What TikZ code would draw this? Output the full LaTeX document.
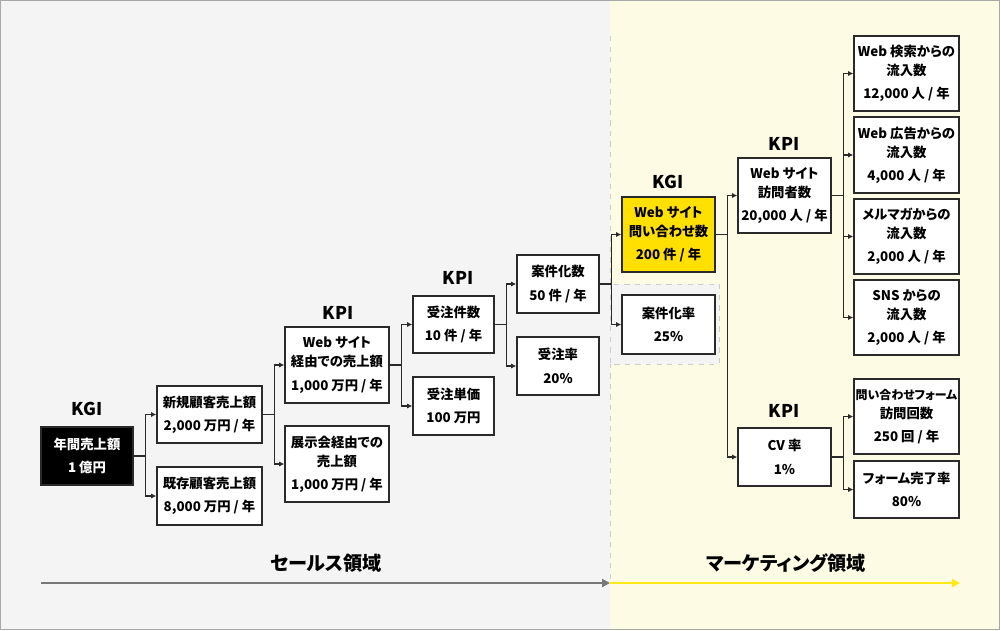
\documentclass[tikz,border=0pt]{standalone}
\usepackage{fontspec}
\setmainfont{Noto Sans CJK JP}[RawFeature=+palt]
\usetikzlibrary{positioning, arrows.meta}

\definecolor{salesbg}{HTML}{F4F4F4}
\definecolor{mktbg}{HTML}{FEFBE4}
\definecolor{kgiyellow}{HTML}{FFE000}
\definecolor{linegray}{HTML}{2A2A2A}
\definecolor{framegray}{HTML}{A8A8A8}
\definecolor{dashgray}{HTML}{CCCCCC}
\definecolor{flowgray}{HTML}{777777}
\definecolor{flowyellow}{HTML}{FFE81A}

\begin{document}
\begin{tikzpicture}[
    x=0.02cm, y=-0.02cm,
    box/.style={draw=linegray, line width=0.75pt, fill=white, align=center, inner sep=0pt, font=\fontsize{7.6}{10.8}\selectfont\bfseries},
    boxsize/.style 2 args={minimum width=#1, minimum height=#2},
    heading/.style={font=\fontsize{10}{12}\selectfont\bfseries},
    area/.style={font=\fontsize{10.9}{12}\selectfont\bfseries},
    link/.style={-{Latex[length=3pt,width=3pt]}, draw=linegray, line width=0.6pt},
    flow/.style={-{Triangle[length=4.5pt,width=4.5pt]}, line width=1.1pt}
]

% Background areas
\useasboundingbox (0,0) rectangle (1000,630);
\fill[salesbg] (0,0) rectangle (610,630);
\fill[mktbg] (610,0) rectangle (1000,630);
\draw[dashgray, dashed] (610,36) -- (610,583);
\draw[dashgray, dashed, fill=salesbg] (610,284) rectangle (719,364);
\draw[framegray, line width=1.1pt] (0.5,0.5) rectangle (999.5,629.5);

% Sales side
\node[box, boxsize={1.84cm}{1.16cm}, fill=black, text=white] (annual) at (87,456) {年間売上額\\[2.5pt]1 億円};
\node[box, boxsize={2.1cm}{1.14cm}] (newcust) at (209.5,414.5) {新規顧客売上額\\[2.5pt]2,000 万円 / 年};
\node[box, boxsize={2.1cm}{1.16cm}] (repeat) at (209.5,496) {既存顧客売上額\\[2.5pt]8,000 万円 / 年};
\node[box, boxsize={2.08cm}{1.52cm}] (webrev) at (337,365) {Web サイト\\経由での売上額\\[2.5pt]1,000 万円 / 年};
\node[box, boxsize={2.08cm}{1.52cm}] (expo) at (337,464) {展示会経由での\\売上額\\[2.5pt]1,000 万円 / 年};
\node[box, boxsize={1.62cm}{1.14cm}] (orders) at (453.5,324.5) {受注件数\\[2.5pt]10 件 / 年};
\node[box, boxsize={1.62cm}{1.16cm}] (price) at (453.5,406) {受注単価\\[2.5pt]100 万円};
\node[box, boxsize={1.64cm}{1.16cm}] (deals) at (558,284) {案件化数\\[2.5pt]50 件 / 年};
\node[box, boxsize={1.64cm}{1.16cm}] (winrate) at (558,366) {受注率\\[2.5pt]20\%};

% Marketing side
\node[box, boxsize={1.86cm}{1.5cm}, fill=kgiyellow] (inquiry) at (668.5,234.5) {Web サイト\\問い合わせ数\\[2.5pt]200 件 / 年};
\node[box, boxsize={1.86cm}{1.18cm}] (dealrate) at (668.5,324.5) {案件化率\\[2.5pt]25\%};
\node[box, boxsize={1.86cm}{1.5cm}] (visitors) at (784.5,195.5) {Web サイト\\訪問者数\\[2.5pt]20,000 人 / 年};
\node[box, boxsize={1.86cm}{1.16cm}] (cvrate) at (784.5,457) {CV 率\\[2.5pt]1\%};
\node[box, boxsize={2.1cm}{1.5cm}] (search) at (906.5,73.5) {Web 検索からの\\流入数\\[2.5pt]12,000 人 / 年};
\node[box, boxsize={2.1cm}{1.52cm}] (ads) at (906.5,155) {Web 広告からの\\流入数\\[2.5pt]4,000 人 / 年};
\node[box, boxsize={2.1cm}{1.5cm}] (mail) at (906.5,236.5) {メルマガからの\\流入数\\[2.5pt]2,000 人 / 年};
\node[box, boxsize={2.1cm}{1.5cm}] (sns) at (906.5,317.5) {SNS からの\\流入数\\[2.5pt]2,000 人 / 年};
\node[box, boxsize={2.1cm}{1.5cm}] (formvisit) at (906.5,416.5) {{\fontsize{6.8}{10.8}\selectfont 問い合わせフォーム}\\訪問回数\\[2.5pt]250 回 / 年};
\node[box, boxsize={2.1cm}{1.14cm}] (formdone) at (906.5,489.5) {フォーム完了率\\[2.5pt]80\%};

% Headings
\node[heading] (kgisales) at (87,408.5) {KGI};
\node[heading] (kpiweb) at (338,312.5) {KPI};
\node[heading] (kpiorders) at (458,277.5) {KPI};
\node[heading] (kgimkt) at (668,181.5) {KGI};
\node[heading] (kpivisit) at (784,144) {KPI};
\node[heading] (kpicv) at (784,411) {KPI};

% Tree connectors
\foreach \a/\b in {annual/newcust, annual/repeat, newcust/webrev, newcust/expo,
    webrev/orders, webrev/price, orders/deals, orders/winrate,
    deals/inquiry, deals/dealrate, inquiry/visitors, inquiry/cvrate,
    visitors/search, visitors/ads, visitors/mail, visitors/sns,
    cvrate/formvisit, cvrate/formdone}
  \draw[link] (\a.east) -- ++(12,0) |- (\b.west);

% Area arrows
\coordinate (salesstart) at (41,583);
\coordinate (areaborder) at (610,583);
\coordinate (mktend) at (960,583);
\draw[flow, flowgray] (salesstart) -- (areaborder);
\draw[flow, flowyellow] (areaborder) -- (mktend);
\node[area] (saleslbl) at (326,563) {セールス領域};
\node[area] (mktlbl) at (786,563) {マーケティング領域};

\end{tikzpicture}
\end{document}
